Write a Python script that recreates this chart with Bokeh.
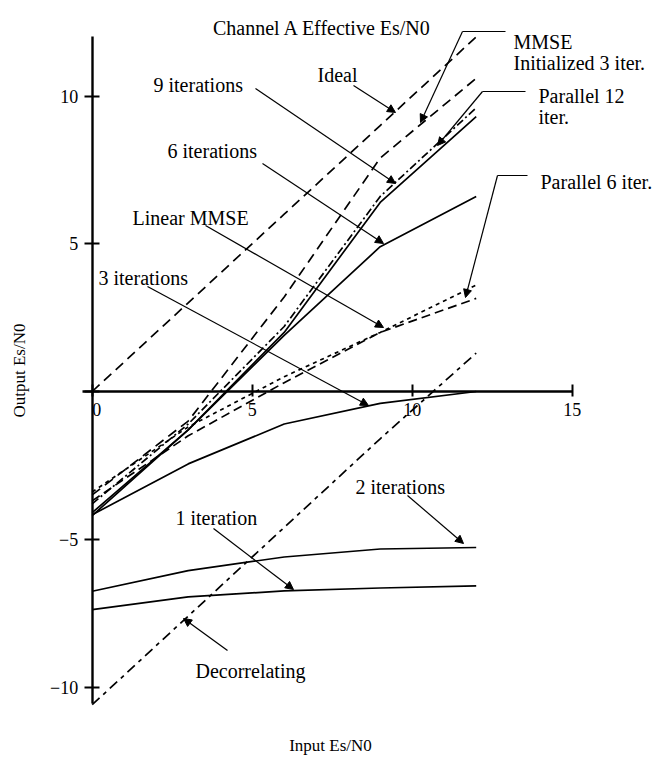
from bokeh.plotting import figure
from bokeh.models import Range1d, LinearAxis, FixedTicker, Arrow, NormalHead, Label
from bokeh.embed import file_html
from bokeh.resources import INLINE

# ---------------- data ----------------
input_esn0 = [0, 3, 6, 9, 12]
ideal = [0.0, 3.0, 6.0, 9.0, 12.0]
mmse_init_3 = [-3.5, -1.0, 3.2, 7.9, 10.6]
parallel_12 = [-3.8, -1.1, 2.2, 6.6, 9.6]
iter_9 = [-4.1, -1.3, 2.0, 6.4, 9.3]
iter_6 = [-4.2, -1.3, 1.9, 4.9, 6.6]
parallel_6 = [-3.4, -1.2, 0.5, 2.0, 3.6]
linear_mmse = [-3.7, -1.5, 0.3, 2.0, 3.15]
iter_3 = [-4.17, -2.45, -1.1, -0.4, 0.0]
iter_2 = [-6.76, -6.06, -5.6, -5.33, -5.28]
iter_1 = [-7.38, -6.95, -6.75, -6.65, -6.58]
decorrelating = [-10.6, -7.6, -4.6, -1.6, 1.3]

x_ticks = [0, 5, 10, 15]
y_ticks = [-10, -5, 0, 5, 10]

# ---------------- layout helpers (pixel -> data) ----------------
X0, XS = 91.7, 32.0
Y0, YS = 391.0, 29.55
W, H = 657, 758


def dx(px):
    return (px - X0) / XS


def dy(py):
    return (Y0 - py) / YS


FONT = "Liberation Serif"

p = figure(width=W, height=H, output_backend="svg", toolbar_location=None,
           title=None, x_range=Range1d(dx(0), dx(W)), y_range=Range1d(dy(H), dy(0)),
           x_axis_type=None, y_axis_type=None, min_border=0,
           outline_line_color=None, background_fill_color="white",
           border_fill_color="white")

# axes crossing at origin
xa = LinearAxis(fixed_location=0, bounds=(-0.3, 15),
                ticker=FixedTicker(ticks=x_ticks),
                major_label_overrides={0: "\u00a0\u00a00"},
                axis_line_width=2.4, axis_line_color="black",
                major_tick_line_width=2, major_tick_line_color="black",
                major_tick_in=7, major_tick_out=5,
                minor_tick_line_color=None,
                major_label_text_font=FONT, major_label_text_font_size="18px",
                major_label_text_color="black", major_label_standoff=3)
p.add_layout(xa, "below")
ya = LinearAxis(fixed_location=0, bounds=(-10.56, 12),
                ticker=FixedTicker(ticks=y_ticks),
                major_label_overrides={0: "", -5: "\u22125", -10: "\u221210"},
                axis_line_width=2.4, axis_line_color="black",
                major_tick_line_width=2, major_tick_line_color="black",
                major_tick_in=7, major_tick_out=8,
                minor_tick_line_color=None,
                major_label_text_font=FONT, major_label_text_font_size="18px",
                major_label_text_color="black", major_label_standoff=6)
p.add_layout(ya, "left")

# curves
LW = 1.7
p.line(input_esn0, ideal, line_color="black", line_width=LW, line_dash="10 6")
p.line(input_esn0, mmse_init_3, line_color="black", line_width=LW, line_dash="10 6")
p.line(input_esn0, parallel_12, line_color="black", line_width=LW, line_dash="8 3 2 3")
p.line(input_esn0, iter_9, line_color="black", line_width=LW)
p.line(input_esn0, iter_6, line_color="black", line_width=LW)
p.line(input_esn0, parallel_6, line_color="black", line_width=LW, line_dash="4 4")
p.line(input_esn0, linear_mmse, line_color="black", line_width=LW, line_dash="9 5")
p.line(input_esn0, iter_3, line_color="black", line_width=LW)
p.line(input_esn0, iter_2, line_color="black", line_width=LW)
p.line(input_esn0, iter_1, line_color="black", line_width=LW)
p.line(input_esn0, decorrelating, line_color="black", line_width=LW, line_dash="10 5 4 5")

# annotations: (text lines, text x px, first baseline px, leader points px)
annotations = [
    (["Ideal"], 317, 74, [(353, 85), (395, 112)]),
    (["MMSE", "Initialized 3 iter."], 513, 41, [(505, 31), (462, 31), (420, 122)]),
    (["Parallel 12", "iter."], 538, 95, [(525, 91), (482, 91), (437, 145)]),
    (["Parallel 6 iter."], 540, 181, [(527, 175), (497, 175), (465, 297)]),
    (["9 iterations"], 153, 84, [(255, 88), (395, 183)]),
    (["6 iterations"], 167, 150, [(262, 163), (383, 243)]),
    (["Linear MMSE"], 132, 217, [(205, 225), (383, 327)]),
    (["3 iterations"], 98, 277, [(147, 286), (368, 405)]),
    (["2 iterations"], 355, 486, [(407, 495), (463, 543)]),
    (["1 iteration"], 175, 517, [(213, 528), (293, 589)]),
    (["Decorrelating"], 195, 670, [(227, 650), (183, 618)]),
]

for lines, tx, ty, pts in annotations:
    for i, t in enumerate(lines):
        p.add_layout(Label(x=dx(tx), y=dy(ty + i * 21), text=t, text_font=FONT,
                           text_font_size="20px", text_color="black",
                           text_baseline="alphabetic", text_align="left"))
    for j in range(len(pts) - 1):
        last = j == len(pts) - 2
        head = NormalHead(size=8, fill_color="black", line_color="black", line_width=1) if last else None
        p.add_layout(Arrow(x_start=dx(pts[j][0]), y_start=dy(pts[j][1]),
                           x_end=dx(pts[j + 1][0]), y_end=dy(pts[j + 1][1]),
                           line_width=1.2, line_color="black", end=head))

# title and axis titles
p.add_layout(Label(x=dx(322), y=dy(27), text="Channel A Effective Es/N0", text_font=FONT,
                   text_font_size="20px", text_color="black",
                   text_align="center", text_baseline="alphabetic"))
p.add_layout(Label(x=dx(330), y=dy(745), text="Input Es/N0", text_font=FONT,
                   text_font_size="17px", text_color="black",
                   text_align="center", text_baseline="middle"))
p.add_layout(Label(x=dx(19), y=dy(370), text="Output Es/N0", text_font=FONT,
                   text_font_size="17px", text_color="black",
                   text_align="center", text_baseline="middle", angle=1.5708))

open("out.html", "w").write(file_html(p, INLINE))
